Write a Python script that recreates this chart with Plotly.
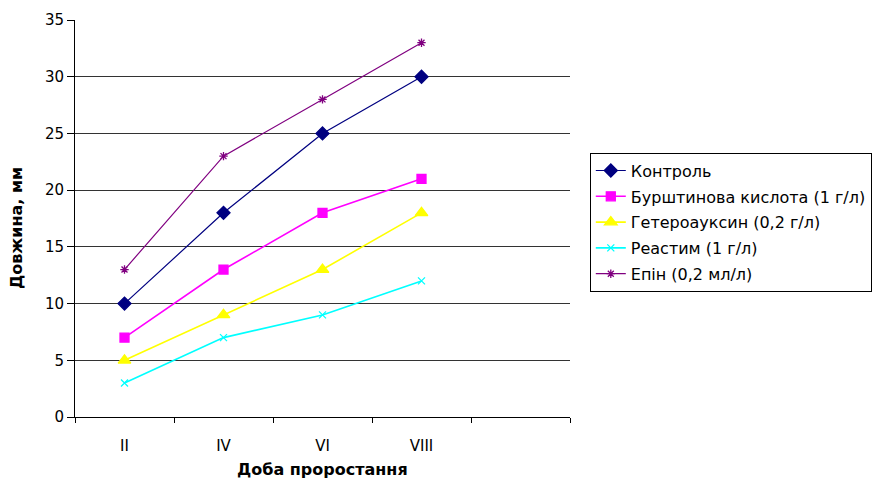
import plotly.graph_objects as go

categories = ["II", "IV", "VI", "VIII"]
series_names = ["Контроль", "Бурштинова кислота (1 г/л)", "Гетероауксин (0,2 г/л)",
                "Реастим (1 г/л)", "Епін (0,2 мл/л)"]
kontrol = [10, 18, 25, 30]
burshtynova = [7, 13, 18, 21]
geteroauksyn = [5, 9, 13, 18]
reastym = [3, 7, 9, 12]
epin = [13, 23, 28, 33]
y_ticks = [0, 5, 10, 15, 20, 25, 30, 35]
x_title = "Доба проростання"
y_title = "Довжина, мм"

values = [kontrol, burshtynova, geteroauksyn, reastym, epin]
colors = ["#000080", "#FF00FF", "#FFFF00", "#00FFFF", "#800080"]
symbols = ["diamond", "square", "triangle-up", "x-thin-open", "asterisk-open"]
sizes = [10, 9, 11, 7, 7]
widths = [1.2, 1.6, 1.6, 1.6, 1.2]
xpos = list(range(1, len(categories) + 1))

FONT = "DejaVu Sans, Liberation Sans, Arial, sans-serif"

fig = go.Figure()
for name, vals, c, s, sz, w in zip(series_names, values, colors, symbols, sizes, widths):
    fig.add_trace(go.Scatter(
        x=xpos, y=vals, name=name, mode="lines+markers", legendgroup=name,
        line=dict(color=c, width=w),
        marker=dict(symbol=s, size=sz, color=c, line=dict(color=c, width=1.3)),
    ))

fig.update_layout(
    width=887, height=481,
    margin=dict(l=75, r=317, t=20, b=64),
    paper_bgcolor="white", plot_bgcolor="white",
    font=dict(family=FONT, size=15, color="black"),
    legend=dict(x=1.04, y=0.666, xanchor="left", yanchor="top",
                bordercolor="black", borderwidth=1, tracegroupgap=2,
                font=dict(size=16), itemwidth=30),
    xaxis=dict(
        range=[0.5, 5.5], tickmode="array", tickvals=xpos, ticktext=categories,
        ticks="outside", ticklen=15, tickcolor="rgba(0,0,0,0)",
        showgrid=False, zeroline=False, automargin=False,
        showline=True, linecolor="black", linewidth=1,
        tickfont=dict(size=15),
        minor=dict(tickmode="linear", tick0=0.5, dtick=1, ticks="outside",
                   ticklen=5, tickcolor="black", showgrid=False),
    ),
    yaxis=dict(
        range=[0, 35], tickmode="array", tickvals=y_ticks,
        ticks="outside", ticklen=7, tickcolor="black",
        showgrid=True, gridcolor="#333333", gridwidth=1,
        zeroline=False, showline=True, linecolor="black", linewidth=1,
        automargin=False,
        tickfont=dict(size=15),
    ),
    annotations=[
        dict(text="<b>" + x_title + "</b>", xref="paper", yref="paper",
             x=0.5, y=-0.1335, xanchor="center", yanchor="middle",
             showarrow=False, font=dict(size=16)),
        dict(text="<b>" + y_title + "</b>", xref="paper", yref="paper",
             x=-0.118, y=0.475, xanchor="center", yanchor="middle",
             textangle=-90, showarrow=False, font=dict(size=16)),
    ],
)

fig.write_html("out.html", config={"displayModeBar": False},
               post_script="document.body.style.margin='0';")
